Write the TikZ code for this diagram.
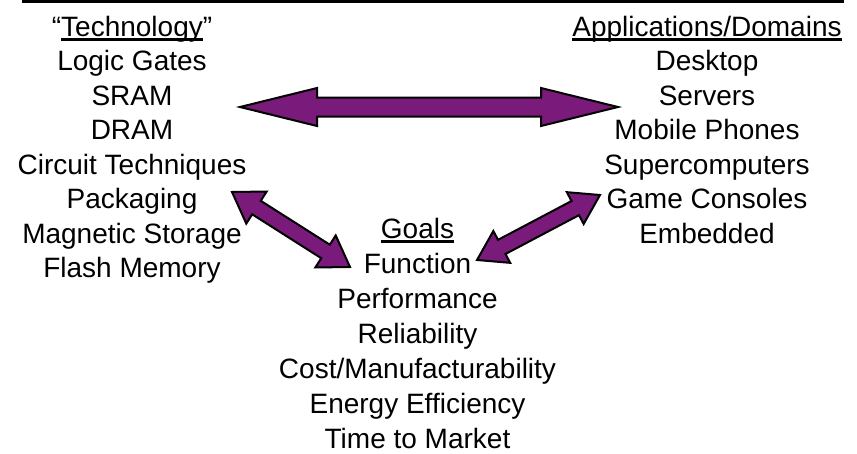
\documentclass[tikz,border=0pt]{standalone}
\usepackage{fontspec}
\setmainfont{Liberation Sans}
\usetikzlibrary{calc}
\definecolor{arrowpurple}{RGB}{122,26,122}
\newcommand\ulin[1]{\leavevmode\setbox0\hbox{#1}\rlap{\raisebox{-4.7pt}{\rule{\wd0}{2.4pt}}}\box0}
% double-headed block arrow: #1 start, #2 end, #3 head length, #4 head half-width, #5 shaft half-width
\newcommand\blockarrow[5]{%
  \draw[blockarrowstyle] (#1)
    -- ($(#1)!#3!(#2)!#4!90:(#2)$) -- ($(#1)!#3!(#2)!#5!90:(#2)$)
    -- ($(#2)!#3!(#1)!#5!-90:(#1)$) -- ($(#2)!#3!(#1)!#4!-90:(#1)$)
    -- (#2)
    -- ($(#2)!#3!(#1)!#4!90:(#1)$) -- ($(#2)!#3!(#1)!#5!90:(#1)$)
    -- ($(#1)!#3!(#2)!#5!-90:(#2)$) -- ($(#1)!#3!(#2)!#4!-90:(#2)$)
    -- cycle;}
\begin{document}
\begin{tikzpicture}[x=1pt,y=-1pt,
  blockarrowstyle/.style={fill=arrowpurple,draw=black,line width=2pt,line join=miter},
  column/.style={align=center,inner sep=0pt,anchor=base,font=\fontsize{28}{34.5}\selectfont},
  goalcol/.style={align=center,inner sep=0pt,anchor=base,font=\fontsize{28}{35}\selectfont}]
\useasboundingbox (0,0) rectangle (857,453);
\coordinate (ruleL) at (22,1.5);
\coordinate (ruleR) at (844,1.5);
\draw[line width=3pt] (ruleL) -- (ruleR);

% base anchor of a multi-line node = baseline of its last line
\node[column] (tech) at (132,277.5) {“\ulin{Technology}”\\Logic Gates\\SRAM\\DRAM\\Circuit Techniques\\Packaging\\Magnetic Storage\\Flash Memory};
\node[column] (apps) at (707,243) {\ulin{Applications/Domains}\\Desktop\\Servers\\Mobile Phones\\Supercomputers\\Game Consoles\\Embedded};
\node[goalcol] (goals) at (417.5,448) {\ulin{Goals}\\Function\\Performance\\Reliability\\Cost/Manufacturability\\Energy Efficiency\\Time to Market};

\coordinate (h1) at (240,107);
\coordinate (h2) at (618,107);
\coordinate (l1) at (232,192);
\coordinate (l2) at (350,267);
\coordinate (r1) at (477,260);
\coordinate (r2) at (600,195);
\blockarrow{h1}{h2}{77pt}{19pt}{9.5pt}
\blockarrow{l1}{l2}{29pt}{19pt}{8pt}
\blockarrow{r1}{r2}{28pt}{18pt}{8pt}
\end{tikzpicture}
\end{document}
